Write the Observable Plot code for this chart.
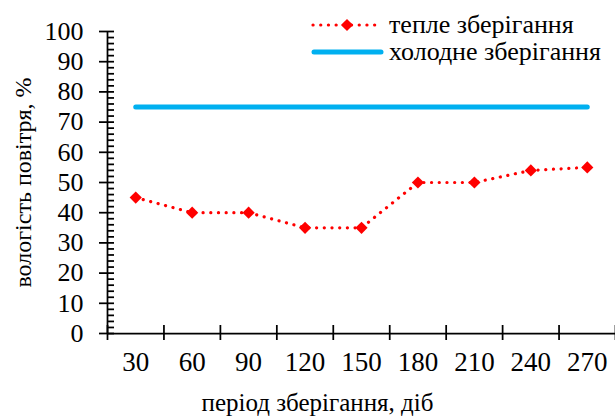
<!DOCTYPE html>
<html><head><meta charset="utf-8">
<script src="https://cdn.jsdelivr.net/npm/d3@7"></script>
<script src="https://cdn.jsdelivr.net/npm/@observablehq/plot@0.6"></script>
<style>
body{margin:0;background:#fff;font-family:"Liberation Serif","Times New Roman",serif;}
#wrap{position:relative;width:615px;height:420px;}
#legend{position:absolute;left:0;top:0;}
svg text{font-family:"Liberation Serif","Times New Roman",serif !important;}
g[aria-label="y-axis tick label"], g[aria-label="y-axis tick label"] text{font-size:26px !important;}
g[aria-label="x-axis tick label"], g[aria-label="x-axis tick label"] text{font-size:27px !important;}
</style></head>
<body><div id="wrap"></div>
<script>
const days = [30, 60, 90, 120, 150, 180, 210, 240, 270];
const warm = [45, 40, 40, 35, 35, 50, 50, 54, 55];
const cold = [75, 75, 75, 75, 75, 75, 75, 75, 75];
const seriesNames = ["тепле зберігання", "холодне зберігання"];
const xTitle = "період зберігання, діб";
const yTitle = "вологість повітря, %";
const yTicks = d3.range(0, 101, 10);
const yMinor = d3.range(0, 101, 2);

const warmData = days.map((d, i) => ({day: d, v: warm[i]}));
const coldData = days.map((d, i) => ({day: d, v: cold[i]}));
const step = days[1] - days[0];
const bounds = d3.range(days[0] - step/2, days[days.length-1] + step/2 + 1, step);

const font = '"Liberation Serif", "Times New Roman", serif';
const red = "#ff0000", blue = "#00b0f0";
const axisW = 1.75;

const chart = Plot.plot({
  width: 615, height: 420,
  marginLeft: 107, marginRight: 0, marginTop: 31, marginBottom: 87,
  style: {fontFamily: font, fontSize: "26px", color: "#000", background: "#fff"},
  x: {domain: [bounds[0], bounds[bounds.length-1]], axis: null},
  y: {domain: [0, 100], axis: null},
  marks: [
    Plot.axisY({ticks: yMinor, tickSize: -7, tickFormat: () => "", strokeWidth: axisW, label: null}),
    Plot.axisY({ticks: yTicks, tickSize: 8, tickPadding: 16, strokeWidth: axisW, fontSize: 26, label: null}),
    Plot.axisX({ticks: bounds, tickSize: 7, tickFormat: () => "", strokeWidth: axisW, label: null}),
    Plot.axisX({ticks: bounds, tickSize: -8, tickFormat: () => "", strokeWidth: axisW, label: null}),
    Plot.axisX({ticks: days, tickSize: 0, tickPadding: 18, fontSize: 27, label: null}),
    Plot.ruleY([0], {strokeWidth: axisW}),
    Plot.ruleX([bounds[0]], {strokeWidth: axisW}),
    Plot.line(coldData, {x: "day", y: "v", stroke: blue, strokeWidth: 5, strokeLinecap: "round"}),
    Plot.line(warmData, {x: "day", y: "v", stroke: red, strokeWidth: 3.2, strokeDasharray: "0.1,7.6", strokeLinecap: "round"}),
    Plot.dot(warmData, {x: "day", y: "v", symbol: "diamond2", r: 5.5, fill: red, stroke: "none"}),
    Plot.text([xTitle], {frameAnchor: "bottom", text: d => d, dx: -44, dy: 77, fontSize: 25, fontFamily: font}),
    Plot.text([yTitle], {frameAnchor: "left", textAnchor: "middle", text: d => d, rotate: -90, dx: -84, fontSize: 24, fontFamily: font})
  ]
});
document.getElementById("wrap").appendChild(chart);

// legend
const lg = d3.select("#wrap").append("svg").attr("id", "legend").attr("width", 615).attr("height", 80);
const rows = [{name: seriesNames[0], y: 25, kind: "warm"}, {name: seriesNames[1], y: 52, kind: "cold"}];
rows.forEach(r => {
  if (r.kind === "warm") {
    lg.append("line").attr("x1", 313).attr("x2", 380).attr("y1", r.y).attr("y2", r.y)
      .attr("stroke", red).attr("stroke-width", 3.2).attr("stroke-dasharray", "0.1,7.6").attr("stroke-linecap", "round");
    lg.append("path").attr("d", d3.symbol(d3.symbolDiamond2, 5.5*5.5*Math.PI)()).attr("transform", `translate(347,${r.y})`).attr("fill", red);
  } else {
    lg.append("line").attr("x1", 314).attr("x2", 381).attr("y1", r.y).attr("y2", r.y)
      .attr("stroke", blue).attr("stroke-width", 5).attr("stroke-linecap", "round");
  }
  lg.append("text").attr("x", 389).attr("y", r.y).attr("dy", "0.32em")
    .style("font-family", font).attr("font-size", 26).text(r.name);
});
</script></body></html>
